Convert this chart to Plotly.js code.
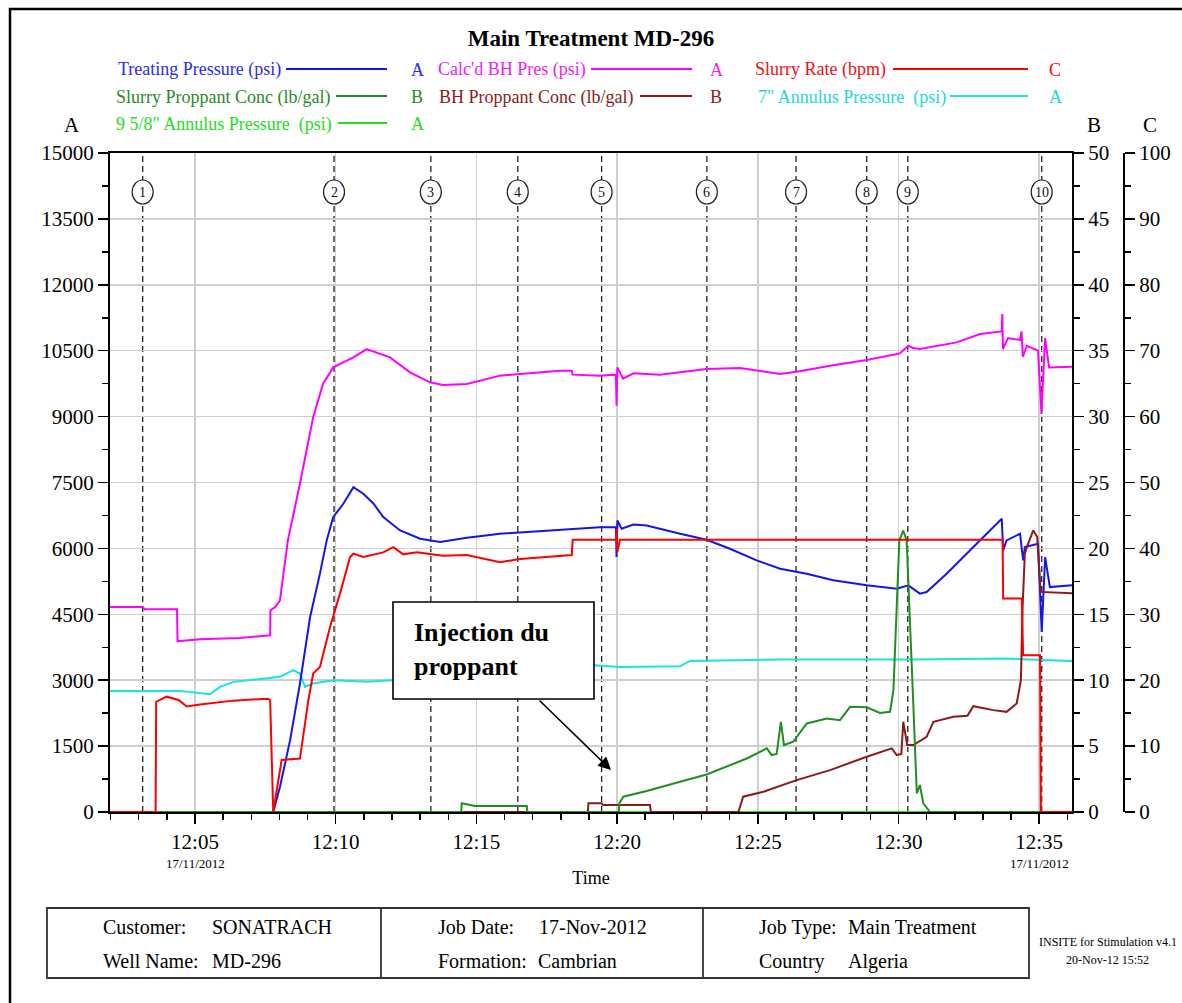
<!DOCTYPE html>
<html>
<head>
<meta charset="utf-8">
<script src="https://cdn.plot.ly/plotly-3.0.1.min.js"></script>
<style>html,body{margin:0;padding:0;background:#fff;}#chart{width:1182px;height:1003px;}</style>
</head>
<body>
<div id="chart"></div>
<script>
// ---- DATA (time in minutes after 12:00 on 17/11/2012) ----
const tTP = [1.98,7.78,8.02,8.38,8.73,9.09,9.44,9.68,9.91,10.27,10.63,10.98,11.34,11.69,12.29,13.00,13.71,14.66,15.84,17.02,18.21,19.39,19.96,19.98,20.01,20.16,20.58,21.05,22.24,23.18,24.01,24.96,25.79,26.74,27.68,28.87,29.94,30.35,30.76,31.00,31.71,32.30,32.90,33.67,33.72,33.84,34.32,34.43,34.49,34.96,35.09,35.21,35.38,36.17];
const vTP = [0,0,575,1636,2925,4439,5425,6182,6711,7016,7393,7243,7023,6711,6409,6220,6144,6243,6334,6386,6447,6484,6484,5802,6636,6447,6545,6523,6334,6197,5993,5727,5538,5425,5273,5159,5084,5159,4970,5007,5425,5802,6182,6675,5955,6182,6334,5727,6030,6106,4098,5800,5120,5159];

const tBH = [1.98,3.15,3.21,4.36,4.38,5.18,6.60,7.67,7.68,7.84,8.02,8.30,8.73,9.20,9.55,9.91,10.63,11.10,11.93,12.64,13.35,13.81,14.66,15.84,16.55,17.97,18.39,18.42,19.39,19.96,19.98,20.01,20.21,20.58,21.52,23.18,24.37,25.08,25.79,26.38,27.57,28.87,30.05,30.35,30.52,30.76,32.07,32.90,33.67,33.69,33.71,33.89,34.32,34.37,34.42,34.56,34.96,35.08,35.21,35.35,36.17];
const vBH = [4666,4666,4613,4613,3886,3930,3960,4022,4590,4660,4818,6182,7477,8984,9750,10120,10348,10538,10348,10007,9780,9720,9743,9932,9970,10045,10045,9955,9932,9955,9250,10120,9864,9984,9955,10084,10106,10030,9970,10023,10159,10288,10439,10613,10560,10538,10689,10879,10939,11333,10538,10788,10743,10939,10363,10613,10500,9061,10788,10120,10136];

const tSR = [1.98,3.60,3.62,3.99,4.41,4.71,5.18,6.36,7.60,7.67,7.78,8.08,8.73,9.03,9.20,9.44,9.80,10.15,10.51,10.63,10.98,11.69,12.05,12.40,12.88,13.81,14.66,15.84,16.55,17.97,18.39,18.42,19.96,19.98,20.01,20.10,33.70,33.72,34.38,34.43,35.03,35.06,36.17];
const vSR = [0,0,16.7,17.5,17.0,16.0,16.3,16.9,17.2,17.0,0,7.9,8.1,17.0,21.0,22.0,28.1,33.1,38.7,39.2,38.7,39.4,40.2,39.1,39.4,38.9,39.0,37.9,38.4,38.9,39.0,41.3,41.3,43.0,39.5,41.3,41.3,32.4,32.4,23.8,23.8,0,0];

const tSP = [1.98,14.46,14.48,14.95,16.79,16.81,20.06,20.08,20.22,21.05,22.24,23.18,24.61,25.32,25.49,25.67,25.82,25.93,26.26,26.74,27.45,27.92,28.28,28.87,29.34,29.70,29.82,29.94,30.03,30.17,30.29,30.53,30.65,30.76,30.88,31.12,36.17];
const vSP = [0,0,0.66,0.45,0.45,0,0,0.66,1.16,1.6,2.3,2.85,4.06,4.83,4.32,4.4,6.84,5.08,5.33,6.72,7.1,6.97,7.98,7.95,7.52,7.6,9.24,15.55,20.6,21.36,20.6,7.98,1.42,2.05,0.66,0,0];

const tBP = [1.98,18.96,18.98,19.45,19.50,21.17,21.20,24.31,24.48,25.20,26.38,27.57,28.87,29.76,29.94,30.10,30.17,30.31,30.53,31.00,31.24,31.95,32.45,32.66,33.37,33.84,34.20,34.35,34.41,34.49,34.56,34.79,34.93,35.03,35.05,36.17];
const vBP = [0,0,0.66,0.66,0.53,0.53,0,0,1.16,1.54,2.42,3.18,4.19,4.83,4.32,4.4,6.84,5.08,5.08,5.7,6.84,7.22,7.3,8.03,7.73,7.6,8.23,10.0,15.55,19.6,20.1,21.36,20.86,17.3,16.7,16.6];

const tA7 = [1.98,4.47,5.53,5.89,6.36,7.55,8.02,8.49,8.73,8.91,9.20,9.91,11.10,12.04,19.21,20.10,22.24,22.59,25.79,30.52,33.72,36.09,36.17];
const vA7 = [2757,2757,2682,2848,2962,3038,3076,3227,3152,2848,2924,3000,2962,3000,3341,3303,3318,3439,3470,3470,3492,3439,3439];

const tA95 = [1.98,36.17];
const vA95 = [0,0];

const eventTimes = [3.14,9.94,13.38,16.47,19.45,23.19,26.36,28.87,30.33,35.09];
const eventLabels = ['1','2','3','4','5','6','7','8','9','10'];

const seriesNames = ['Treating Pressure (psi)','Calc\'d BH Pres (psi)','Slurry Rate (bpm)','Slurry Proppant Conc (lb/gal)','BH Proppant Conc (lb/gal)','7" Annulus Pressure  (psi)','9 5/8" Annulus Pressure  (psi)'];
const seriesAxisLetter = ['A','A','C','B','B','A','A'];
const seriesColors = ['#1414F0','#FF00FF','#FF0000','#1F8F1F','#8B1A1A','#19E3E3','#22DD22'];

const tableLabels = ['Customer:','Well Name:','Job Date:','Formation:','Job Type:','Country'];
const tableValues = ['SONATRACH','MD-296','17-Nov-2012','Cambrian','Main Treatment','Algeria'];

// ---- helpers ----
function tm(m){
  const mm = Math.floor(m);
  const s = (m - mm) * 60;
  return '2012-11-17 12:' + String(mm).padStart(2,'0') + ':' + s.toFixed(2).padStart(5,'0');
}
const L = 110, PW = 1022, B0 = 812, PH = 659;
function px(x){ return (x - L) / PW; }
function py(y){ return (B0 - y) / PH; }

function tr(t, v, axis, idx){
  return {x: t.map(tm), y: v, yaxis: axis, type:'scatter', mode:'lines',
          name: seriesNames[idx], line:{color: seriesColors[idx], width:2}, hoverinfo:'skip'};
}
const data = [
  tr(tA95, vA95, 'y', 6),
  tr(tA7, vA7, 'y', 5),
  tr(tTP, vTP, 'y', 0),
  tr(tBH, vBH, 'y', 1),
  tr(tSR, vSR, 'y3', 2),
  tr(tBP, vBP, 'y2', 4),
  tr(tSP, vSP, 'y2', 3)
];

const serif = 'Liberation Serif, Times New Roman, serif';
const shapes = [];
const annotations = [];

// event lines and circled numbers
eventTimes.forEach((t, i) => {
  shapes.push({type:'line', xref:'x', yref:'paper', x0:tm(t), x1:tm(t), y0:0, y1:1,
    line:{color:'#222', width:1.3, dash:'6px,4px'}, layer:'below'});
  shapes.push({type:'circle', xref:'x', yref:'paper', xsizemode:'pixel', ysizemode:'pixel',
    xanchor:tm(t), yanchor:py(192), x0:-10.5, x1:10.5, y0:-12, y1:12,
    fillcolor:'white', line:{color:'#222', width:1.2}, layer:'above'});
  annotations.push({xref:'x', yref:'paper', x:tm(t), y:py(192), text:eventLabels[i], showarrow:false,
    font:{family:serif, size:14, color:'#111'}, xanchor:'center', yanchor:'middle'});
});

// custom legend
const legRows = [
  {i:0, y:70, textEnd:283, l0:286, l1:387, lx:417},
  {i:1, y:70, textEnd:588, l0:591, l1:692, lx:716},
  {i:2, y:70, textEnd:888, l0:893, l1:1028, lx:1055},
  {i:3, y:97, textEnd:332, l0:336, l1:387, lx:417},
  {i:4, y:97, textEnd:635, l0:640, l1:692, lx:716},
  {i:5, y:97, textEnd:948, l0:950, l1:1028, lx:1055},
  {i:6, y:124, textEnd:334, l0:338, l1:387, lx:417}
];
const legTextColors = ['#2A2AF0','#F020F0','#F01010','#2A8A2A','#8B1A1A','#1ED8D8','#22DD22'];
legRows.forEach(r => {
  annotations.push({xref:'paper', yref:'paper', x:px(r.textEnd), y:py(r.y), xanchor:'right', yanchor:'middle',
    text:seriesNames[r.i], showarrow:false, font:{family:serif, size:18, color:legTextColors[r.i]}});
  shapes.push({type:'line', xref:'paper', yref:'paper', x0:px(r.l0), x1:px(r.l1), y0:py(r.y-1), y1:py(r.y-1),
    line:{color:seriesColors[r.i], width:2.2}});
  annotations.push({xref:'paper', yref:'paper', x:px(r.lx), y:py(r.y), xanchor:'center', yanchor:'middle',
    text:seriesAxisLetter[r.i], showarrow:false, font:{family:serif, size:18, color:legTextColors[r.i]}});
});

// axis letters
[['A',72],['B',1094],['C',1150]].forEach(a => {
  annotations.push({xref:'paper', yref:'paper', x:px(a[1]), y:py(125), text:a[0], showarrow:false,
    font:{family:serif, size:21, color:'black'}, xanchor:'center', yanchor:'middle'});
});

// date sublabels
[5, 35].forEach(m => {
  annotations.push({xref:'x', yref:'paper', x:tm(m), y:py(863), text:'17/11/2012', showarrow:false,
    font:{family:serif, size:13, color:'black'}, xanchor:'center', yanchor:'middle'});
});

// Injection box
shapes.push({type:'rect', xref:'paper', yref:'paper', x0:px(393), x1:px(594), y0:py(602), y1:py(699),
  fillcolor:'white', line:{color:'black', width:1.6}, layer:'above'});
annotations.push({xref:'paper', yref:'paper', x:px(412), y:py(649), xanchor:'left', yanchor:'middle', align:'left',
  text:'<b>Injection du<br>proppant</b>', showarrow:false, font:{family:serif, size:26, color:'black'}});
annotations.push({xref:'paper', yref:'paper', x:px(611), y:py(770), ax:538-611, ay:699-770, text:'', showarrow:true,
  arrowhead:2, arrowsize:1.6, arrowwidth:1.6, arrowcolor:'black'});

// outer frame
shapes.push({type:'rect', xref:'paper', yref:'paper', x0:px(10), x1:px(1230), y0:py(1040), y1:py(9),
  line:{color:'black', width:2.5}, fillcolor:'rgba(0,0,0,0)'});

// info table
shapes.push({type:'rect', xref:'paper', yref:'paper', x0:px(47), x1:px(1029), y0:py(978), y1:py(908),
  line:{color:'#333', width:1.8}, fillcolor:'rgba(0,0,0,0)'});
[381, 703].forEach(x => shapes.push({type:'line', xref:'paper', yref:'paper', x0:px(x), x1:px(x), y0:py(978), y1:py(908),
  line:{color:'#333', width:1.8}}));
const tabPos = [[101,210,927],[101,210,961],[436,537,927],[436,536,961],[757,846,927],[757,846,961]];
tabPos.forEach((p, i) => {
  annotations.push({xref:'paper', yref:'paper', x:px(p[0]), y:py(p[2]), xanchor:'left', yanchor:'middle',
    text:tableLabels[i], showarrow:false, font:{family:serif, size:20, color:'black'}});
  annotations.push({xref:'paper', yref:'paper', x:px(p[1]), y:py(p[2]), xanchor:'left', yanchor:'middle',
    text:tableValues[i], showarrow:false, font:{family:serif, size:20, color:'black'}});
});
annotations.push({xref:'paper', yref:'paper', x:px(1108), y:py(942), xanchor:'center', yanchor:'middle',
  text:'INSITE for Stimulation v4.1', showarrow:false, font:{family:serif, size:12, color:'black'}});
annotations.push({xref:'paper', yref:'paper', x:px(1107), y:py(960), xanchor:'center', yanchor:'middle',
  text:'20-Nov-12 15:52', showarrow:false, font:{family:serif, size:12, color:'black'}});

const tickCommon = {ticks:'outside', ticklen:10, tickwidth:1.5, tickcolor:'black', showline:true,
  linecolor:'black', linewidth:2, zeroline:false, tickfont:{family:serif, size:21, color:'black'}};

const layout = {
  width:1182, height:1003,
  margin:{l:110, r:50, t:153, b:191, pad:0},
  paper_bgcolor:'white', plot_bgcolor:'white',
  font:{family:serif, color:'black'},
  showlegend:false,
  title:{text:'<b>Main Treatment MD-296</b>', x:px(591), xref:'paper', xanchor:'center',
         y:1-38/1003, yref:'container', yanchor:'middle', font:{family:serif, size:23, color:'black'}},
  xaxis:Object.assign({}, tickCommon, {
    type:'date', domain:[0, px(1072)], range:[tm(1.979), tm(36.166)],
    tickformat:'%H:%M', dtick:300000, tick0:tm(5), mirror:true,
    showgrid:true, gridcolor:'#cfcfcf', gridwidth:1.5,
    minor:{dtick:60000, tick0:tm(5), ticks:'outside', ticklen:6, tickcolor:'black', showgrid:false},
    title:{text:'Time', font:{family:serif, size:18, color:'black'}, standoff:18}
  }),
  yaxis:Object.assign({}, tickCommon, {
    range:[0,15000], dtick:1500, tick0:0, tickformat:'d',
    showgrid:true, gridcolor:'#cfcfcf', gridwidth:1.5,
    minor:{dtick:750, ticks:'outside', ticklen:6, tickcolor:'black', showgrid:false}
  }),
  yaxis2:Object.assign({}, tickCommon, {
    overlaying:'y', side:'right', anchor:'x', range:[0,50], dtick:5, tick0:0, showgrid:false,
    minor:{dtick:2.5, ticks:'outside', ticklen:6, tickcolor:'black', showgrid:false}
  }),
  yaxis3:Object.assign({}, tickCommon, {
    overlaying:'y', side:'right', anchor:'free', position:px(1124), range:[0,100], dtick:10, tick0:0, showgrid:false,
    minor:{dtick:5, ticks:'outside', ticklen:6, tickcolor:'black', showgrid:false}
  }),
  shapes: shapes,
  annotations: annotations
};

Plotly.newPlot('chart', data, layout, {displayModeBar:false, staticPlot:true});
</script>
</body>
</html>
